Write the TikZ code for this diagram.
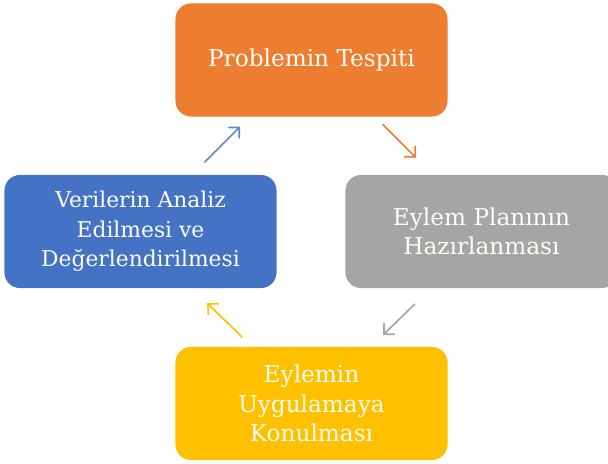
\documentclass[tikz,border=0pt]{standalone}
\usepackage{fontspec}
\setmainfont{DejaVu Serif}
\usetikzlibrary{arrows.meta, calc}
\definecolor{boxorange}{HTML}{ED7D31}
\definecolor{boxgray}{HTML}{A5A5A5}
\definecolor{boxyellow}{HTML}{FFC000}
\definecolor{boxblue}{HTML}{4472C4}
\begin{document}
\begin{tikzpicture}[x=0.025cm, y=-0.025cm,
    stagebox/.style={rounded corners=11pt, minimum width=6.8cm, minimum height=2.825cm, inner sep=0pt,
        text=white!96!yellow, align=center, font=\fontsize{16.5}{21}\selectfont},
    cyclearrow/.style={line width=1.2pt, line cap=round, -{Straight Barb[length=5.5pt, width=11pt, line width=1.2pt]}}]
    \useasboundingbox (0, 0) rectangle (608, 464);
    \clip (0, 0) rectangle (608, 464);

    \node[stagebox, fill=boxorange] (problem) at (311.5, 60) {Problemin Tespiti};
    \node[stagebox, fill=boxgray] (plan) at (481.5, 231.5) {Eylem Planının\\Hazırlanması};
    \node[stagebox, fill=boxyellow] (uygulama) at (311.5, 403.5) {Eylemin\\Uygulamaya\\Konulması};
    \node[stagebox, fill=boxblue, font=\fontsize{15.5}{21}\selectfont] (analiz) at (140.5, 231.5) {Verilerin Analiz\\Edilmesi ve\\Değerlendirilmesi};

    \draw[cyclearrow, boxblue!85, shorten <=0.45cm, shorten >=0.35cm] ($(analiz.north)+(51.5, 0)$) -- ($(problem.south)+(-61.5, 0)$);
    \draw[cyclearrow, boxorange, shorten <=0.28cm, shorten >=0.6cm] ($(problem.south)+(63.5, 0)$) -- ($(plan.north)+(-48.5, 0)$);
    \draw[cyclearrow, boxgray, shorten <=0.57cm, shorten >=0.42cm] ($(plan.south)+(-50.5, 0)$) -- ($(uygulama.north)+(59.5, 0)$);
    \draw[cyclearrow, boxyellow, shorten <=0.35cm, shorten >=0.53cm] ($(uygulama.north)+(-59.5, 0)$) -- ($(analiz.south)+(51.5, 0)$);
\end{tikzpicture}
\end{document}
